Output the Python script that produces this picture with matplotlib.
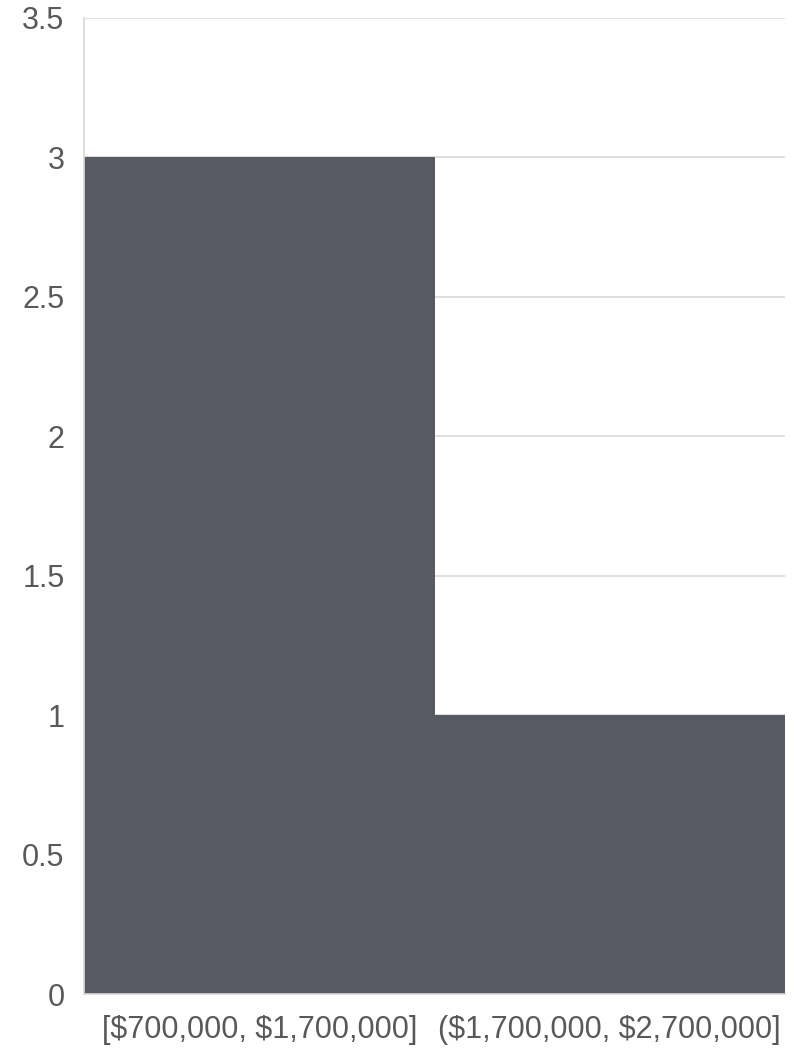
import matplotlib.pyplot as plt

# 数据
categories = ['[$700,000, $1,700,000]', '($1,700,000, $2,700,000]']
counts = [3, 1]
y_ticks = [0, 0.5, 1, 1.5, 2, 2.5, 3, 3.5]

plt.rcParams['font.family'] = ['Liberation Sans', 'DejaVu Sans']
plt.rcParams['text.parse_math'] = False  # 避免 $ 被当成数学公式

fig = plt.figure(figsize=(7.94, 10.5), dpi=100)
ax = fig.add_axes([0.1058, 0.0533, 0.8829, 0.9296])

ax.bar(range(len(categories)), counts, width=1.0, color='#575a62', zorder=2)

ax.set_xlim(-0.5, len(categories) - 0.5)
ax.set_ylim(0, 3.5)
ax.set_yticks(y_ticks)
ax.set_yticklabels([f'{t:g}' for t in y_ticks])
ax.set_xticks(range(len(categories)))
ax.set_xticklabels(categories)

# 网格和坐标轴样式
ax.grid(axis='y', color='#d9d9d9', linewidth=1.2, zorder=1)
for side in ['top', 'right']:
    ax.spines[side].set_visible(False)
for side in ['left', 'bottom']:
    ax.spines[side].set_color('#d9d9d9')
    ax.spines[side].set_linewidth(1.2)
ax.tick_params(axis='both', length=0, labelsize=22, labelcolor='#595959')
ax.tick_params(axis='y', pad=14)
ax.tick_params(axis='x', pad=15)

plt.savefig('out.png', dpi=100)
